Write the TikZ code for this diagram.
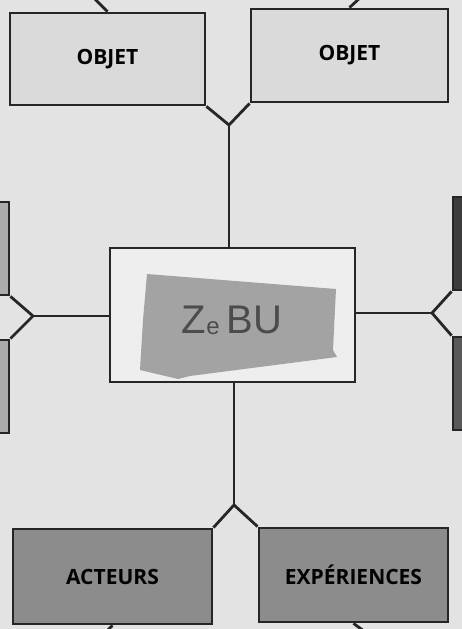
\documentclass[tikz,border=0pt]{standalone}
\usepackage{fontspec}
\setmainfont{Open Sans}
\usepackage{tikz}
\usetikzlibrary{positioning}
\definecolor{paper}{HTML}{E3E3E3}
\definecolor{pale}{HTML}{DADADA}
\definecolor{mid}{HTML}{ABABAB}
\definecolor{deep}{HTML}{8C8C8C}
\definecolor{ink}{HTML}{3C3C3C}
\definecolor{tape}{HTML}{A3A3A3}

\begin{document}
\begin{tikzpicture}[x=1pt,y=-1pt,every node/.style={font=\bfseries\fontsize{21}{24}\selectfont},
  box/.style={draw=black!85,line width=2.8pt,inner sep=0pt},
  link/.style={line width=2.8pt,draw=black!85,line join=miter}]
\clip (0,0) rectangle (462,629);
\fill[paper] (0,0) rectangle (462,629);
% top row
\node[box,fill=pale,minimum width=195pt,minimum height=92pt] (objA) at (107.5,59) {OBJET};
\node[box,fill=pale,minimum width=197pt,minimum height=93pt] (objB) at (349.5,55.5) {OBJET};
% centre
\node[box,fill=paper!60!white,minimum width=245pt,minimum height=134pt] (centre) at (232.5,315) {};
\fill[tape] (147,274) -- (336,289) -- (333,350) -- (337,357) -- (190,376) -- (178,379) -- (140,370) -- (143,320) -- cycle;
\node[font=\fontspec{Liberation Sans}\fontsize{40}{44}\selectfont,text=black!70] (tag) at (232,320) {Z\raisebox{-1pt}{\fontsize{24}{28}\selectfont e}\,BU};
% sides, mostly out of the frame
\node[box,fill=mid,minimum width=194pt,minimum height=93pt] (lu) at (-88,248.5) {};
\node[box,fill=mid,minimum width=194pt,minimum height=93pt] (ll) at (-88,386.5) {};
\node[box,fill=ink,minimum width=195pt,minimum height=93pt] (ru) at (550.5,243.5) {};
\node[box,fill=ink!85!white,minimum width=195pt,minimum height=93pt] (rl) at (550.5,383.5) {};
% bottom row
\node[box,fill=deep,minimum width=199pt,minimum height=95pt] (act) at (112.5,576.5) {ACTEURS};
\node[box,fill=deep,minimum width=189pt,minimum height=94pt] (exp) at (353.5,575) {EXPÉRIENCES};
% junctions
\coordinate (jtop) at (229,125);
\coordinate (jleft) at (33,316);
\coordinate (jright) at (432,313);
\coordinate (jbot) at (234,505);
\coordinate (offA) at (92,-4);
\coordinate (offB) at (362,-4);
\coordinate (offC) at (104,634);
\coordinate (offD) at (368,634);
% links
\draw[link] (objA.south east) -- (jtop) -- (objB.south west);
\draw[link] (jtop) -- (jtop |- centre.north);
\draw[link] (lu.south east) -- (jleft) -- (ll.north east);
\draw[link] (jleft) -- (jleft -| centre.west);
\draw[link] (ru.south west) -- (jright) -- (rl.north west);
\draw[link] (jright) -- (jright -| centre.east);
\draw[link] (jbot |- centre.south) -- (jbot);
\draw[link] (act.north east) -- (jbot) -- (exp.north west);
\draw[link] (objA.north) -- (offA);
\draw[link] (objB.north) -- (offB);
\draw[link] (act.south) -- (offC);
\draw[link] (exp.south) -- (offD);
\end{tikzpicture}
\end{document}
